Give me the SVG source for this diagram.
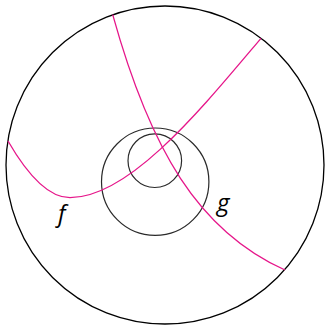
<svg xmlns="http://www.w3.org/2000/svg" width="325" height="325" viewBox="0 0 325 325">
<style>
.outer{fill:none;stroke:#000;stroke-width:1.3}
.inner{fill:none;stroke:#2a2a2a;stroke-width:1.2}
.curve{fill:none;stroke:#e6168a;stroke-width:1.3}
.lbl{font-family:"Open Sans","DejaVu Sans",sans-serif;font-style:italic;font-size:24px;fill:#000}
</style>
<rect width="325" height="325" fill="#fff"/>
<g id="disk"><circle class="outer" cx="165" cy="165" r="159"/></g>
<g id="circle-medium"><circle class="inner" cx="155.2" cy="181.7" r="53.7"/></g>
<g id="circle-small"><circle class="inner" cx="154.8" cy="160.7" r="26.8"/></g>
<g id="connectors">
<path id="f" class="curve" d="M8,141 C23,167 45,197.7 70,197.7 C130,197.7 202.9,107 261,38.3"/>
<path id="g" class="curve" d="M112.7,14.7 C150.2,149.5 198.4,231.1 285,270"/>
</g>
<g id="label-f"><text class="lbl" x="58" y="222">f</text></g>
<g id="label-g"><text class="lbl" x="217" y="211">g</text></g>
</svg>
